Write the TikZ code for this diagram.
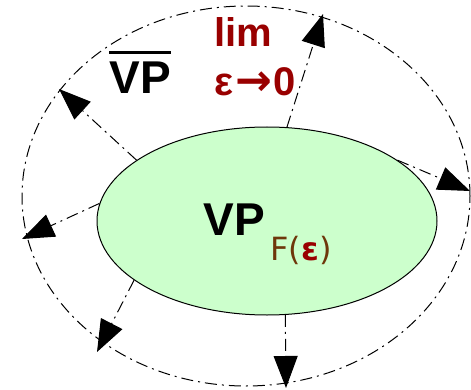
\documentclass[tikz,border=0pt]{standalone}
\usepackage{fontspec}
\setmainfont{Liberation Sans}
\newfontfamily\dejavu{DejaVu Sans}
\usetikzlibrary{arrows.meta,shapes.geometric,positioning}
\definecolor{limred}{RGB}{153,0,0}
\definecolor{subbrown}{RGB}{110,55,10}
\definecolor{setgreen}{RGB}{204,255,204}
\tikzset{
    dashdot/.style={line width=0.5pt, dash pattern=on 6pt off 2.5pt on 1pt off 2.5pt},
    spreadarrow/.style={dashdot, -{Triangle[length=16pt,width=12pt]}},
    bigtxt/.style={inner sep=0pt, font=\bfseries\fontsize{23}{23}\selectfont},
    limtxt/.style={inner sep=0pt, anchor=base west, text=limred, font=\bfseries\fontsize{20}{20}\selectfont},
}
\begin{document}
\begin{tikzpicture}[x=0.5pt, y=-0.5pt]
    \useasboundingbox (0,0) rectangle (471,390);

    % Outer set (the closure)
    \draw[dashdot] (246,196) ellipse [x radius=112pt, y radius=95pt];

    % Inner set
    \node[ellipse, draw, fill=setgreen, line width=0.5pt,
          minimum width=170pt, minimum height=94pt, inner sep=0pt] (vp) at (267,221) {};

    % Arrows from the inner set out to the closure
    \foreach \ang/\tx/\ty [count=\i] in {78/323/14, 155/59/89, 174/22/239, 204/97/352, 281/286/388, 25/470/191} {
        \coordinate (tip\i) at (\tx,\ty);
        \draw[spreadarrow] (vp.\ang) -- (tip\i);
    }

    % Labels
    \node[bigtxt] (clos) at (140,72) {\vbox{\hrule height 1.5pt\kern 4pt\hbox{VP}}};
    \node[limtxt] (lim) at (214,47) {lim};
    \node[limtxt] (limarg) at (214,96) {ε\kern1pt{\dejavu\bfseries\fontsize{22}{22}\selectfont→}\kern0.5pt0};
    \node[bigtxt, anchor=base west] (vplab) at (203,235) {VP};
    \node[inner sep=0pt, anchor=base west, text=subbrown, font=\dejavu\fontsize{16}{16}\selectfont]
        (sub) at ([xshift=2.5pt, yshift=-12.5pt]vplab.base east) {F(\textbf{\color{limred}ε})};
\end{tikzpicture}
\end{document}
